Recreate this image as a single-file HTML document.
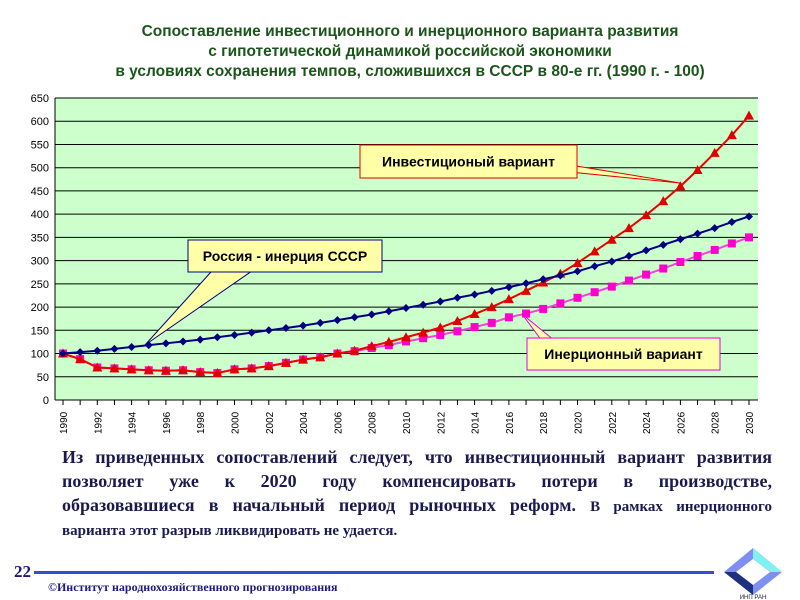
<!DOCTYPE html>
<html><head><meta charset="utf-8"><style>
body{margin:0;width:800px;height:600px;background:#fff;overflow:hidden;position:relative;font-family:"Liberation Sans",sans-serif}
.title{position:absolute;left:0;top:22px;width:820px;text-align:center;color:#1a551a;font-weight:bold;font-size:15.5px;line-height:20px}
.body{position:absolute;left:62px;top:445px;width:710px;font-family:"Liberation Serif",serif;font-weight:bold;font-size:18px;line-height:24px;color:#1a1a50}
.body div{text-align:justify;text-align-last:justify;white-space:nowrap}
.body div.last{text-align-last:left}
.foot{position:absolute;left:48px;top:580px;font-family:"Liberation Serif",serif;font-weight:bold;font-size:12px;color:#1a1a80}
.num{position:absolute;left:14px;top:562px;font-family:"Liberation Serif",serif;font-weight:bold;font-size:17px;color:#1a1a80}
</style></head><body>
<div class="title">Сопоставление инвестиционного и инерционного варианта развития<br>с гипотетической динамикой российской экономики<br>в условиях сохранения темпов, сложившихся в СССР в 80-е гг. (1990 г. - 100)</div>
<svg id="chart" width="800" height="440" style="position:absolute;left:0;top:0"></svg>
<div class="body">
<div>Из приведенных сопоставлений следует, что инвестиционный вариант развития</div>
<div>позволяет уже к 2020 году компенсировать потери в производстве,</div>
<div>образовавшиеся в начальный период рыночных реформ. <span style="font-size:15px">В рамках инерционного</span></div>
<div class="last" style="font-size:15px">варианта этот разрыв ликвидировать не удается.</div>
</div>
<div class="num">22</div>
<div style="position:absolute;left:34px;top:571px;width:680px;height:3px;background:#3050d0"></div>
<div class="foot">©Институт народнохозяйственного прогнозирования</div>
<svg style="position:absolute;left:718px;top:545px" width="70" height="55">
<polygon points="35,3 64,27 35,50 6,27" fill="#7f8ff0"/><polygon points="35,14 52,27 35,40 18,27" fill="#fff"/><polygon points="35,3 64,27 52,27 35,14" fill="#80f0f0"/><polygon points="18,27 35,40 35,50 6,27" fill="#203080"/>
<text x="35" y="54" font-size="6" text-anchor="middle" font-family="Liberation Sans" fill="#223">ИНП РАН</text></svg>
<script>
const years=[];for(let y=1990;y<=2030;y++)years.push(y);
const russia=[100,103,106,110,114,118,122,126,130,135,140,145,150,155,160,166,172,178,184,191,198,205,212,220,227,235,243,251,260,268,277,288,298,310,322,334,346,358,370,383,395];
const invest=[100,88,70,68,66,64,63,64,60,58,66,68,73,80,87,92,100,106,116,125,135,145,156,170,185,200,217,235,253,272,295,320,345,370,398,428,460,495,532,570,612];
const inertia=[100,88,70,68,66,64,63,64,60,58,66,68,73,80,87,92,100,105,112,118,126,133,140,148,157,166,178,186,196,208,220,232,244,257,270,283,297,310,323,337,350];
const yTicks=[0,50,100,150,200,250,300,350,400,450,500,550,600,650];
const NS="http://www.w3.org/2000/svg",svg=document.getElementById('chart');
const X=y=>63+(y-1990)*17.15, Y=v=>400-v*(302/650);
function el(t,a,p){const e=document.createElementNS(NS,t);for(const k in a)e.setAttribute(k,a[k]);(p||svg).appendChild(e);return e;}
const bg=el('rect',{x:55,y:98,width:703,height:302,fill:'#ccffcc'});


yTicks.forEach(v=>{
 const l=el('line',{x1:55,x2:758,y1:Y(v),y2:Y(v),stroke:'#000','stroke-width':1});
 
 
 const t=el('text',{x:49,y:Y(v)+4,'text-anchor':'end','font-size':11,'font-family':'Liberation Sans'});t.textContent=v;
 
 
});
el('line',{x1:55,x2:55,y1:98,y2:400,stroke:'#000'});
years.forEach(y=>{
 el('line',{x1:X(y),x2:X(y),y1:400,y2:405,stroke:'#000'});
 if(y%2===0){const t=el('text',{transform:`translate(${X(y)+4},434) rotate(-90)`,'font-size':10,'font-family':'Liberation Sans'});t.textContent=y;
 
 }
});
function series(d,col,shape,name){
 const g=el('g',{});
 
 
 el('polyline',{points:d.map((v,i)=>X(years[i])+','+Y(v)).join(' '),fill:'none',stroke:col,'stroke-width':2},g);
 d.forEach((v,i)=>{const x=X(years[i]),y=Y(v);let m;
  if(shape==='d')m=el('polygon',{points:`${x},${y-4} ${x+4},${y} ${x},${y+4} ${x-4},${y}`,fill:col},g);
  else if(shape==='t')m=el('polygon',{points:`${x},${y-5} ${x+5},${y+4} ${x-5},${y+4}`,fill:'#e00000'},g);
  else m=el('rect',{x:x-4,y:y-4,width:8,height:8,fill:'#ff00cc'},g);
  
  });
}
series(inertia,'#ee44dd','s','series-inertia');
series(invest,'#ee0000','t','series-investment');
series(russia,'#000080','d','series-russia-ussr');
function callout(x,y,w,h,txt,col,pts,name){
 const g=el('g',{});
 
 
 el('polygon',{points:pts,fill:'#ffffa8',stroke:col},g);
 el('rect',{x,y,width:w,height:h,fill:'#ffffa8',stroke:col},g);
 const t=el('text',{x:x+w/2,y:y+h/2+5,'text-anchor':'middle','font-size':14,'font-weight':'bold','font-family':'Liberation Sans'},g);t.textContent=txt;
}
callout(360,145,217,33,'Инвестиционый вариант','#e00000','570,165 680,183 570,172','callout-investment');
callout(188,240,194,32,'Россия - инерция СССР','#000080','220,262 145,345 265,262','callout-russia');
callout(527,338,193,32,'Инерционный вариант','#e000e0','560,345 522,314 545,345','callout-inertia');
</script>
</body></html>
